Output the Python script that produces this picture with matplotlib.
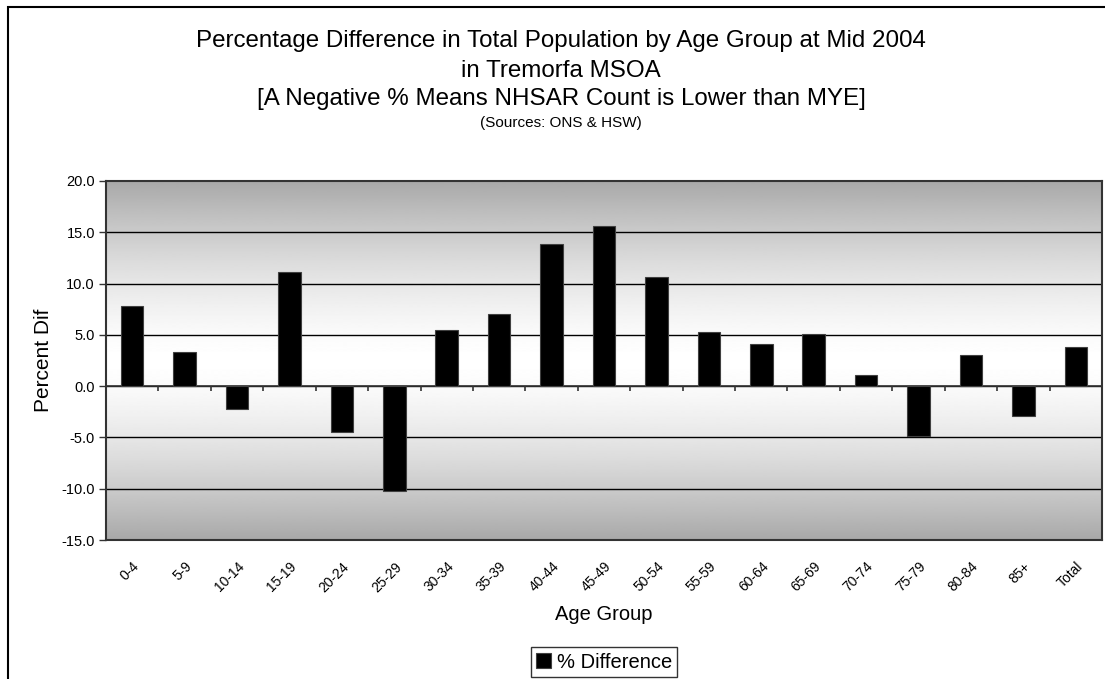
import matplotlib
matplotlib.use("Agg")
from matplotlib import pyplot as plt
from matplotlib.patches import Rectangle
import numpy as np

plt.rcParams["font.family"] = ["Liberation Sans", "DejaVu Sans"]

# data
age_groups = ["0-4", "5-9", "10-14", "15-19", "20-24", "25-29", "30-34", "35-39",
              "40-44", "45-49", "50-54", "55-59", "60-64", "65-69", "70-74",
              "75-79", "80-84", "85+", "Total"]
pct_diff = [7.8, 3.3, -2.2, 11.1, -4.5, -10.2, 5.5, 7.0, 13.9, 15.6, 10.6,
            5.3, 4.1, 5.1, 1.1, -4.9, 3.0, -2.9, 3.8]
y_ticks = [-15, -10, -5, 0, 5, 10, 15, 20]

W, H = 1105, 679
fig = plt.figure(figsize=(W / 100, H / 100), dpi=100)
ax = fig.add_axes([106 / W, 1 - 540 / H, (1102 - 106) / W, (540 - 181) / H])

x = np.arange(len(age_groups))
ymin, ymax = -15, 20

# grey -> white -> grey vertical gradient behind the bars
t = np.linspace(-1, 1, 400)
shade = 1 - 0.34 * np.abs(t) ** 1.5
ax.imshow(shade[:, None], cmap="gray", vmin=0, vmax=1, aspect="auto",
          extent=[-0.5, len(x) - 0.5, ymin, ymax], zorder=0, interpolation="bilinear")

for v in y_ticks[1:-1]:
    ax.axhline(v, color="black", lw=1.0, zorder=1)

ax.bar(x, pct_diff, width=0.43, color="black", edgecolor="#404040", lw=0.8,
       zorder=3, label="% Difference")

# category axis sits on zero with ticks between groups
ax.axhline(0, color="#333333", lw=1.2, zorder=2)
ax.vlines(x[:-1] + 0.5, -0.5, 0, color="#333333", lw=1.2, zorder=2)

ax.set_xlim(-0.5, len(x) - 0.5)
ax.set_ylim(ymin, ymax)
ax.set_yticks(y_ticks)
ax.set_yticklabels(["%.1f" % v for v in y_ticks], fontsize=10.5)
ax.set_xticks(x)
ax.set_xticklabels(age_groups, rotation=45, ha="right", rotation_mode="anchor",
                   fontsize=10)
ax.tick_params(axis="x", length=0, pad=14)
ax.tick_params(axis="y", length=5, width=1, color="#333333", pad=3)
for s in ax.spines.values():
    s.set_color("#333333")
    s.set_linewidth(1.5)
    s.set_zorder(4)

ax.set_ylabel("Percent Dif", fontsize=15, labelpad=6)
fig.text(604 / W, 1 - 614 / H, "Age Group", ha="center", va="center", fontsize=14.5)

title_size = 17.4
fig.text(561 / W, 1 - 41 / H, "Percentage Difference in Total Population by Age Group at Mid 2004",
         ha="center", va="center", fontsize=title_size)
fig.text(561 / W, 1 - 71 / H, "in Tremorfa MSOA", ha="center", va="center", fontsize=title_size)
fig.text(561 / W, 1 - 99 / H, "[A Negative % Means NHSAR Count is Lower than MYE]",
         ha="center", va="center", fontsize=title_size)
fig.text(561 / W, 1 - 123 / H, "(Sources: ONS & HSW)", ha="center", va="center", fontsize=11)

leg = fig.legend(loc="center", bbox_to_anchor=(604 / W, 1 - 662 / H), fontsize=14.5,
                 frameon=True, fancybox=False, handlelength=0.75, handleheight=0.75,
                 handletextpad=0.3, borderpad=0.25, borderaxespad=0)
leg.get_frame().set_edgecolor("black")
leg.get_frame().set_linewidth(1.0)

# chart area border (cropped on the right and bottom in the original)
fig.patches.append(Rectangle((8 / W, -0.05), 1.2, 1 - 7 / H + 0.05, transform=fig.transFigure,
                             fill=False, edgecolor="black", lw=1.5))

fig.savefig("out.png", dpi=100)
